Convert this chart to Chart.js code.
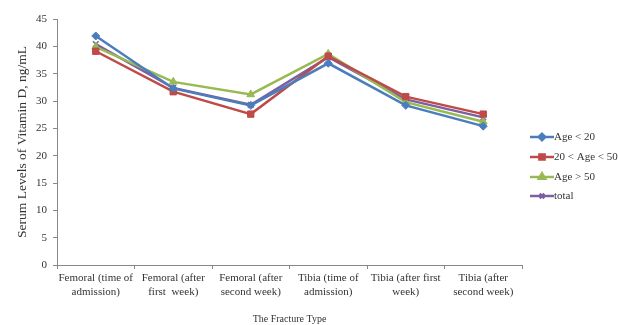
<!DOCTYPE html>
<html>
<head>
<meta charset="utf-8">
<script src="https://cdn.jsdelivr.net/npm/chart.js@4.4.1/dist/chart.umd.min.js"></script>
<style>
  html, body { margin: 0; padding: 0; background: #fff; }
  #wrap { width: 618px; height: 325px; position: relative; }
</style>
</head>
<body>
<div id="wrap"><canvas id="grafico"></canvas></div>
<script>
// categorias (eixo x)
const categorias = [
    ['Femoral (time of', 'admission)'],
    ['Femoral (after', 'first  week)'],
    ['Femoral (after', 'second week)'],
    ['Tibia (time of', 'admission)'],
    ['Tibia (after first', 'week)'],
    ['Tibia (after', 'second week)']
];

// series
const idadeMenor20 = [41.9, 32.3, 29.2, 36.9, 29.2, 25.4];
const idade20a50 = [39.1, 31.7, 27.6, 38.2, 30.8, 27.6];
const idadeMaior50 = [39.9, 33.5, 31.2, 38.6, 29.8, 26.2];
const total = [40.4, 32.4, 29.3, 38.0, 30.3, 27.0];

const nomesSeries = ['Age < 20', '20 < Age < 50', 'Age > 50', 'total'];
const ticksY = [0, 5, 10, 15, 20, 25, 30, 35, 40, 45];

const fonte = 'Liberation Serif';
const corTexto = '#333';

function serie(nome, dados, cor, estilo, raio) {
    return {
        label: nome,
        data: dados,
        borderColor: cor,
        backgroundColor: cor,
        borderWidth: 2.5,
        pointStyle: estilo,
        pointRadius: raio,
        pointBorderWidth: estilo === 'crossRot' ? 1.5 : 1,
        tension: 0
    };
}

// legenda desenhada a mao (linha + marcador)
const legendaPlugin = {
    id: 'legendaPlugin',
    afterDraw(chart) {
        const ctx = chart.ctx;
        const ys = [137, 157, 177, 196];
        chart.data.datasets.forEach((ds, i) => {
            const y = ys[i];
            ctx.save();
            ctx.strokeStyle = ds.borderColor;
            ctx.lineWidth = 2.5;
            ctx.beginPath();
            ctx.moveTo(530, y);
            ctx.lineTo(554, y);
            ctx.stroke();
            ctx.fillStyle = ds.backgroundColor;
            Chart.helpers.drawPoint(ctx, {
                pointStyle: ds.pointStyle,
                radius: ds.pointRadius - 0.8,
                borderWidth: ds.pointBorderWidth
            }, 542, y);
            ctx.fillStyle = corTexto;
            ctx.font = '11px "' + fonte + '"';
            ctx.textBaseline = 'middle';
            ctx.fillText(ds.label, 554, y);
            ctx.restore();
        });
    }
};

const ctx = document.getElementById('grafico').getContext('2d');
const grafico = new Chart(ctx, {
    type: 'line',
    data: {
        labels: categorias,
        datasets: [
            serie(nomesSeries[0], idadeMenor20, '#4A7EBB', 'rectRot', 4),
            serie(nomesSeries[1], idade20a50, '#BE4B48', 'rect', 4.5),
            serie(nomesSeries[2], idadeMaior50, '#98B954', 'triangle', 4.5),
            serie(nomesSeries[3], total, '#7D60A0', 'crossRot', 4)
        ]
    },
    options: {
        responsive: true,
        maintainAspectRatio: false,
        animation: false,
        layout: { padding: { left: 0, right: 96, top: 19, bottom: 0 } },
        plugins: {
            legend: { display: false },
            tooltip: { enabled: false }
        },
        scales: {
            x: {
                offset: true,
                grid: {
                    display: true,
                    offset: true,
                    drawOnChartArea: false,
                    tickLength: 4,
                    color: '#888'
                },
                border: { color: '#888', width: 1 },
                ticks: {
                    maxRotation: 0,
                    autoSkip: false,
                    color: corTexto,
                    padding: 3,
                    font: { family: fonte, size: 11, lineHeight: 1.2 }
                },
                title: {
                    display: true,
                    text: 'The Fracture Type',
                    color: corTexto,
                    font: { family: fonte, size: 10 },
                    padding: { top: 18, bottom: 0 }
                },
                afterFit(scale) { scale.height = 60; }
            },
            y: {
                min: 0,
                max: 45,
                afterBuildTicks(scale) {
                    scale.ticks = ticksY.map(v => ({ value: v }));
                },
                grid: {
                    display: true,
                    drawOnChartArea: false,
                    tickLength: 4,
                    color: '#888'
                },
                border: { color: '#888', width: 1 },
                ticks: {
                    color: corTexto,
                    padding: 6,
                    font: { family: fonte, size: 11 }
                },
                title: {
                    display: true,
                    text: 'Serum Levels of Vitamin D, ng/mL',
                    color: corTexto,
                    font: { family: fonte, size: 13.5 },
                    padding: { top: 14, bottom: 4 }
                },
                afterFit(scale) { scale.width = 57; }
            }
        }
    },
    plugins: [legendaPlugin]
});
</script>
</body>
</html>
